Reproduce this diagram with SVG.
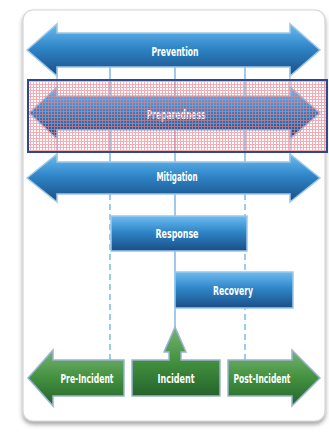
<svg xmlns="http://www.w3.org/2000/svg" width="329" height="436" viewBox="0 0 329 436">
<defs>
<linearGradient id="blue" x1="0" y1="0" x2="0" y2="1">
<stop offset="0" stop-color="#6cbcef"/>
<stop offset="0.45" stop-color="#2f86c8"/>
<stop offset="1" stop-color="#1a4e86"/>
</linearGradient>
<linearGradient id="green" x1="0" y1="0" x2="0" y2="1">
<stop offset="0" stop-color="#76b470"/>
<stop offset="0.5" stop-color="#43903f"/>
<stop offset="1" stop-color="#24642b"/>
</linearGradient>
<pattern id="pink" width="3" height="3" patternUnits="userSpaceOnUse">
<rect x="0" y="0" width="3" height="1" fill="#f0808e" fill-opacity="0.65"/>
<rect x="0" y="1" width="1" height="2" fill="#f0808e" fill-opacity="0.65"/>
</pattern>
<filter id="sh" x="-10%" y="-10%" width="120%" height="120%">
<feDropShadow dx="0" dy="3" stdDeviation="2" flood-color="#555" flood-opacity="0.55"/>
</filter>
</defs>
<style>
.b{fill:url(#blue);stroke:#9cc8ea;stroke-width:1.5}
.g{fill:url(#green);stroke:#9ab4d4;stroke-width:1.5}
.t{fill:#fff;font-family:"Liberation Sans Narrow","DejaVu Sans Condensed","Liberation Sans",sans-serif;font-size:12.5px;font-weight:bold;text-anchor:middle;dominant-baseline:central}
.ln{stroke:#6aaee0;stroke-width:1.3;fill:none}
.ds{stroke-dasharray:6,4}
</style>
<rect x="23" y="10" width="302" height="411" rx="10" fill="#fff" stroke="#d6d6d6" stroke-width="1.2" filter="url(#sh)"/>
<g id="connectors">
<rect x="57" y="66" width="233" height="97" fill="#fff" stroke="#9fb4cc" stroke-width="1.2"/>
<path class="ln" d="M110,66V163M175,66V163M245,66V163"/>
<path class="ln ds" d="M110,194V360M245,194V360"/>
<path class="ln" d="M175,194V330"/>
</g>
<g id="prevention">
<path class="b" d="M27,50L57,24L57,33L290,33L290,24L320,50L290,76L290,67L57,67L57,76Z"/>
<text class="t" x="175" y="51" textLength="47" lengthAdjust="spacingAndGlyphs">Prevention</text>
</g>
<g id="preparedness">
<path class="b" d="M29,113L57,87L57,96L290,96L290,87L320,113L290,139L290,130L57,130L57,139Z"/>
<text class="t" x="176" y="114" textLength="59" lengthAdjust="spacingAndGlyphs">Preparedness</text>
</g>
<g id="overlay">
<rect x="28" y="80" width="299" height="72" fill="url(#pink)" stroke="#2a4a8a" stroke-width="2"/>
</g>
<g id="mitigation">
<path class="b" d="M27,178L57,154L57,162L290,162L290,154L320,178L290,202L290,194L57,194L57,202Z"/>
<text class="t" x="177" y="176" textLength="41" lengthAdjust="spacingAndGlyphs">Mitigation</text>
</g>
<g id="response">
<rect class="b" x="111" y="216" width="136" height="35"/>
<text class="t" x="177" y="233" textLength="43" lengthAdjust="spacingAndGlyphs">Response</text>
</g>
<g id="recovery">
<rect class="b" x="175" y="272" width="118" height="36"/>
<text class="t" x="233" y="290" textLength="40" lengthAdjust="spacingAndGlyphs">Recovery</text>
</g>
<g id="pre-incident">
<path class="g" d="M28,378L53,350L53,360L124,360L124,396L53,396L53,406Z"/>
<text class="t" x="87" y="378" textLength="53" lengthAdjust="spacingAndGlyphs">Pre-Incident</text>
</g>
<g id="incident">
<path class="g" d="M132,360L169,360L169,352L164,352L175,327L186,352L181,352L181,360L220,360L220,396L132,396Z"/>
<text class="t" x="176" y="378" textLength="37" lengthAdjust="spacingAndGlyphs">Incident</text>
</g>
<g id="post-incident">
<path class="g" d="M228,360L292,360L292,350L320,378L292,406L292,396L228,396Z"/>
<text class="t" x="262" y="378" textLength="57" lengthAdjust="spacingAndGlyphs">Post-Incident</text>
</g>
</svg>
